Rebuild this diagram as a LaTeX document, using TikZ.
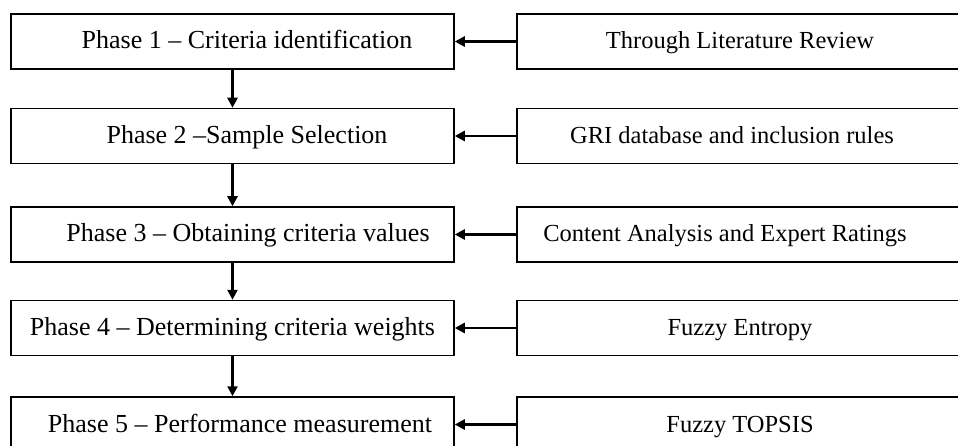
\documentclass[tikz,border=0pt]{standalone}
\usepackage{fontspec}
\setmainfont{Liberation Serif}
\usetikzlibrary{arrows.meta}
\begin{document}
\begin{tikzpicture}[x=1pt,y=-1pt,
  phasebox/.style={draw=black,line width=1.5pt,minimum width=443pt,minimum height=55pt,inner sep=0pt},
  srcbox/.style={draw=black,line width=1.5pt,minimum width=446pt,minimum height=55pt,inner sep=0pt},
  lbl/.style={anchor=base,inner sep=0pt,font=\fontsize{26}{30}\selectfont},
  rlbl/.style={anchor=base,inner sep=0pt,font=\fontsize{24.5}{29}\selectfont},
  arr/.style={line width=2.4pt,-{Triangle[length=10pt,width=10pt]}}]
\useasboundingbox (0,0) rectangle (958,446);
\begin{scope}
\clip (0,0) rectangle (958,446);
% left boxes
\node[phasebox] (p1) at (232.5,41.5) {};
\node[phasebox] (p2) at (232.5,136) {};
\node[phasebox] (p3) at (232.5,234.5) {};
\node[phasebox] (p4) at (232.5,328) {};
\node[phasebox] (p5) at (232.5,424.5) {};
% right boxes
\node[srcbox] (s1) at (740,41.5) {};
\node[srcbox] (s2) at (740,136) {};
\node[srcbox] (s3) at (740,234.5) {};
\node[srcbox] (s4) at (740,328) {};
\node[srcbox] (s5) at (740,424.5) {};
% texts
\node[lbl] (t1) at ([xshift=14.5pt,yshift=-7.5pt]p1.center) {Phase 1 – Criteria identification};
\node[lbl] (t2) at ([xshift=14.5pt,yshift=-7.5pt]p2.center) {Phase 2 –Sample Selection};
\node[lbl] (t3) at ([xshift=15.5pt,yshift=-7.5pt]p3.center) {Phase 3 – Obtaining criteria values};
\node[lbl] (t4) at ([xshift=0pt,yshift=-7.5pt]p4.center) {Phase 4 – Determining criteria weights};
\node[lbl] (t5) at ([xshift=7.5pt,yshift=-7.5pt]p5.center) {Phase 5 – Performance measurement};
\node[rlbl] (u1) at ([yshift=-7.5pt]s1.center) {Through Literature Review};
\node[rlbl] (u2) at ([xshift=-8pt,yshift=-7.5pt]s2.center) {GRI database and inclusion rules};
\node[rlbl] (u3) at ([xshift=-15pt,yshift=-7.5pt]s3.center) {Content Analysis and Expert Ratings};
\node[rlbl] (u4) at ([yshift=-7.5pt]s4.center) {Fuzzy Entropy};
\node[rlbl] (u5) at ([yshift=-7.5pt]s5.center) {Fuzzy TOPSIS};
% arrows
\draw[arr] (p1.south) -- (p2.north);
\draw[arr] (p2.south) -- (p3.north);
\draw[arr] (p3.south) -- (p4.north);
\draw[arr] (p4.south) -- (p5.north);
\draw[arr] (s1.west) -- (p1.east);
\draw[arr] (s2.west) -- (p2.east);
\draw[arr] (s3.west) -- (p3.east);
\draw[arr] (s4.west) -- (p4.east);
\draw[arr] (s5.west) -- (p5.east);
\end{scope}
\end{tikzpicture}
\end{document}
